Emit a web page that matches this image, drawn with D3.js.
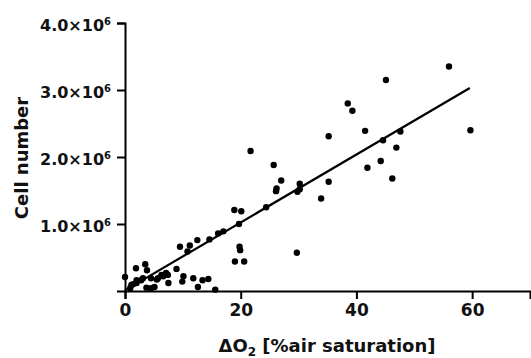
<!DOCTYPE html>
<html>
<head>
<meta charset="utf-8">
<script src="https://cdn.jsdelivr.net/npm/d3@7"></script>
<style>
  body { margin: 0; background: #fff; }
  svg { display: block; }
</style>
</head>
<body>
<svg id="chart" width="531" height="358"></svg>
<script>
// O2 consumption (x) vs cell number (y)
var deltaO2 = [0.0, 0.9, 1.1, 1.4, 1.9, 2.0, 2.0, 2.8, 3.1, 3.5, 3.8, 3.7, 4.5, 4.5, 5.1, 5.5, 5.7, 6.3, 6.6, 7.1,
  7.4, 7.5, 8.9, 9.5, 9.9, 10.1, 10.8, 11.2, 11.8, 12.5, 12.6, 13.4, 14.4, 14.6, 15.6, 16.1, 17.0, 18.9, 19.0, 19.7,
  19.8, 19.9, 20.1, 20.6, 21.7, 24.4, 25.7, 26.1, 26.2, 27.0, 29.7, 29.8, 30.2, 30.2, 33.9, 35.2, 35.2, 38.5, 39.3, 41.5,
  41.9, 44.2, 44.6, 45.1, 46.2, 46.9, 47.6, 56.0, 59.7];
var cellNumber = [0.21, 0.04, 0.09, 0.10, 0.34, 0.16, 0.12, 0.16, 0.19, 0.40, 0.31, 0.05, 0.04, 0.19, 0.06, 0.17, 0.19, 0.24, 0.22, 0.27,
  0.24, 0.12, 0.33, 0.66, 0.14, 0.22, 0.59, 0.68, 0.19, 0.76, 0.06, 0.16, 0.18, 0.77, 0.02, 0.86, 0.89, 1.21, 0.44, 1.00,
  0.66, 0.61, 1.19, 0.44, 2.09, 1.25, 1.88, 1.49, 1.53, 1.65, 0.57, 1.48, 1.60, 1.52, 1.38, 2.31, 1.63, 2.80, 2.69, 2.39,
  1.84, 1.94, 2.25, 3.15, 1.68, 2.14, 2.38, 3.35, 2.40].map(function(d) { return d * 1e6; });

// regression line end points
var fitX = [0, 59.6];
var fitY = [0.01e6, 3.03e6];

var xTicks = [0, 20, 40, 60];
var yTicks = [1e6, 2e6, 3e6, 4e6];
var yTickLabels = ["1.0×10", "2.0×10", "3.0×10", "4.0×10"];

var svg = d3.select("#chart");
var font = "'DejaVu Sans', sans-serif";

var x = d3.scaleLinear().domain([0, 70]).range([125, 530]);
var y = d3.scaleLinear().domain([0, 4e6]).range([291, 23]);

// x axis
var xAxis = svg.append("g")
    .attr("transform", "translate(0, 291)")
    .call(d3.axisBottom(x).tickValues(xTicks).tickSizeOuter(0).tickSize(8).tickPadding(5));
xAxis.select(".domain").attr("stroke-width", 2);
xAxis.selectAll(".tick line").attr("stroke-width", 2);
xAxis.selectAll("text")
    .attr("font-family", font).attr("font-weight", "bold").attr("font-size", 17).attr("fill", "#111");

// y axis
var yAxis = svg.append("g")
    .attr("transform", "translate(125, 0)")
    .call(d3.axisLeft(y).tickValues(yTicks).tickSizeOuter(0).tickSize(8).tickPadding(16));
yAxis.select(".domain").attr("stroke-width", 2);
yAxis.selectAll(".tick line").attr("stroke-width", 2);
yAxis.selectAll("text")
    .attr("font-family", font).attr("font-weight", "bold").attr("font-size", 16).attr("fill", "#111")
    .text(null)
    .each(function(d, i) {
        var t = d3.select(this);
        t.append("tspan").text(yTickLabels[i]);
        t.append("tspan").attr("font-size", 10).attr("dy", -6).text("6");
    });
yAxis.selectAll("text").attr("x", -14).attr("dy", "0.45em");

// regression line
svg.append("line")
    .attr("x1", x(fitX[0])).attr("y1", y(fitY[0]))
    .attr("x2", x(fitX[1])).attr("y2", y(fitY[1]))
    .attr("stroke", "#000").attr("stroke-width", 2.2);

// points
svg.append("g").selectAll("circle")
    .data(deltaO2)
    .enter().append("circle")
    .attr("cx", function(d) { return x(d); })
    .attr("cy", function(d, i) { return y(cellNumber[i]); })
    .attr("r", 3.2)
    .attr("fill", "#000");

// axis titles
var xt = svg.append("text")
    .attr("x", 327).attr("y", 352)
    .attr("text-anchor", "middle")
    .attr("font-family", font).attr("font-weight", "bold").attr("font-size", 18).attr("fill", "#111");
xt.append("tspan").text("ΔO");
xt.append("tspan").attr("font-size", 12).attr("dy", 4).text("2");
xt.append("tspan").attr("dy", -4).text(" [%air saturation]");

svg.append("text")
    .attr("transform", "translate(28, 158) rotate(-90)")
    .attr("text-anchor", "middle")
    .attr("font-family", font).attr("font-weight", "bold").attr("font-size", 18).attr("fill", "#111")
    .text("Cell number");
</script>
</body>
</html>
